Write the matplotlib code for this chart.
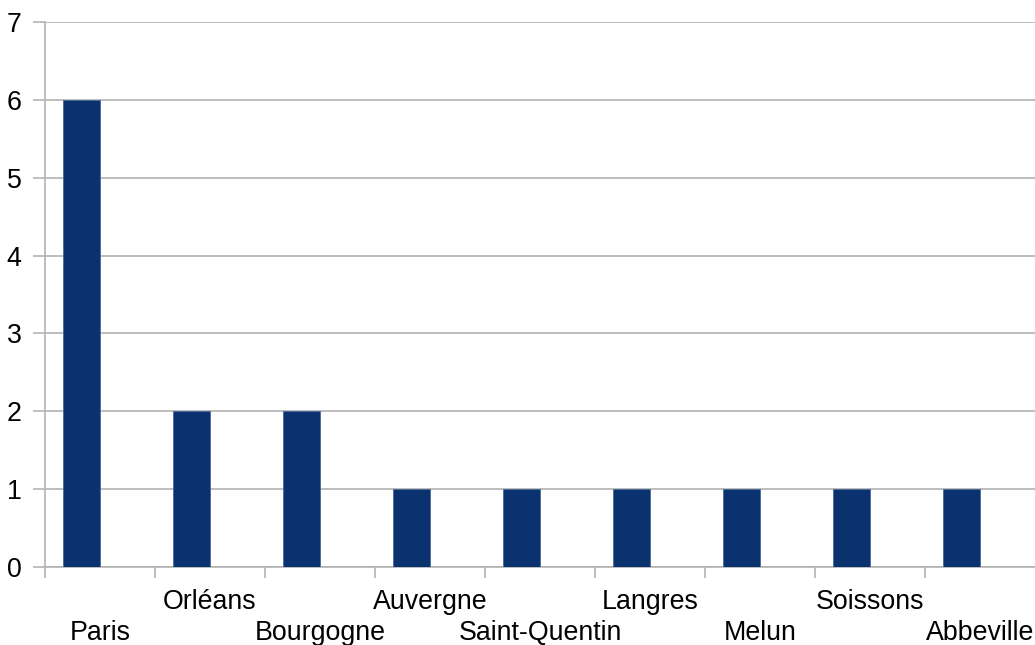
import numpy as np
import matplotlib.pyplot as plt

# Données : nombre d'occurrences par lieu
lieux = ["Paris", "Orléans", "Bourgogne", "Auvergne", "Saint-Quentin",
         "Langres", "Melun", "Soissons", "Abbeville"]
valeurs = [6, 2, 2, 1, 1, 1, 1, 1, 1]

plt.rcParams['font.family'] = ['Liberation Sans', 'DejaVu Sans']

fig = plt.figure(figsize=(10.35, 6.45), dpi=100)
ax = fig.add_axes([45 / 1035, 78 / 645, 990 / 1035, 545 / 645])

x = np.arange(len(lieux))
largeur = 0.336
ax.bar(x - largeur / 2, valeurs, width=largeur, color='#0a326e',
       edgecolor='#4a6a98', linewidth=0.6, zorder=3)

gris = '#b3b3b3'
ax.set_ylim(0, 7)
ax.set_yticks(range(0, 8))
ax.yaxis.grid(True, color=gris, linewidth=1.2, zorder=0)
ax.set_xlim(-0.5, len(lieux) - 0.5)

# étiquettes centrées, traits aux limites des catégories
ax.set_xticks(x)
ax.set_xticklabels(lieux)
ax.set_xticks(np.arange(-0.5, len(lieux) - 0.5, 1), minor=True)
ax.tick_params(axis='x', which='major', length=0, labelsize=19.3)
ax.tick_params(axis='x', which='minor', length=8, width=1.2, color=gris)
ax.tick_params(axis='y', length=9, width=1.2, color=gris, labelsize=19.3, pad=8)

for i, tick in enumerate(ax.xaxis.get_major_ticks()):
    tick.set_pad(38 if i % 2 == 0 else 15.5)

for cote in ['top', 'right']:
    ax.spines[cote].set_visible(False)
for cote in ['left', 'bottom']:
    ax.spines[cote].set_color(gris)
    ax.spines[cote].set_linewidth(1.2)

fig.savefig('out.png', dpi=100)
